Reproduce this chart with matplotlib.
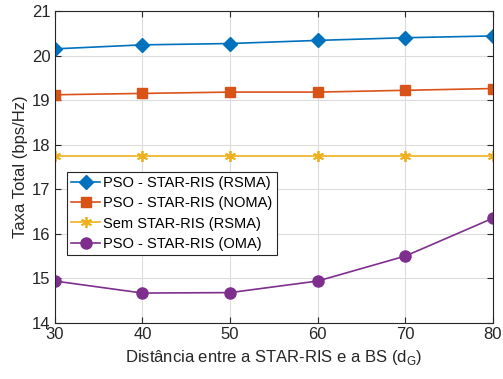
import matplotlib
matplotlib.use("Agg")
import matplotlib.pyplot as plt

plt.rcParams['font.family'] = ['Liberation Sans', 'DejaVu Sans']

x = [30, 40, 50, 60, 70, 80]
rsma = [20.15, 20.24, 20.27, 20.34, 20.40, 20.44]
noma = [19.12, 19.15, 19.18, 19.18, 19.22, 19.26]
sem = [17.74, 17.74, 17.74, 17.74, 17.74, 17.74]
oma = [14.94, 14.67, 14.68, 14.94, 15.50, 16.35]
labels = ['PSO - STAR-RIS (RSMA)', 'PSO - STAR-RIS (NOMA)', 'Sem STAR-RIS (RSMA)', 'PSO - STAR-RIS (OMA)']

fig = plt.figure(figsize=(5.03, 3.79), dpi=100)
ax = fig.add_axes([0.109, 0.148, 0.871, 0.823])

ax.plot(x, rsma, color='#0072BD', marker='D', markersize=7.5, lw=1.2, label=labels[0])
ax.plot(x, noma, color='#D95319', marker='s', markersize=7, lw=1.2, label=labels[1])
ax.plot(x, sem, color='#EDB120', marker=(6, 2, 0), markersize=8, mew=1.3, lw=1.2, label=labels[2])
ax.plot(x, oma, color='#7E2F8E', marker='o', markersize=8, lw=1.2, label=labels[3])

ax.set_xlim(30, 80)
ax.set_ylim(14, 21)
ax.set_xticks(x)
ax.set_yticks(range(14, 22))
ax.grid(True, color='#dcdcdc', lw=0.8)
ax.set_axisbelow(True)
ax.tick_params(direction='in', labelsize=12, colors='#262626', top=True, right=True, length=4, pad=3)
for s in ax.spines.values():
    s.set_color('#262626')
    s.set_linewidth(0.8)

ax.set_xlabel('Distância entre a STAR-RIS e a BS (d$_\\mathregular{G}$)', fontsize=12, color='#262626', labelpad=4)
ax.set_ylabel('Taxa Total (bps/Hz)', fontsize=12, color='#262626', labelpad=3)

leg = ax.legend(loc='upper left', bbox_to_anchor=(0.027, 0.484), borderaxespad=0, fontsize=10.5,
                frameon=True, fancybox=False, edgecolor='#262626', framealpha=1,
                handlelength=2.0, handletextpad=0.2, labelspacing=0.42, borderpad=0.3)
leg.get_frame().set_linewidth(0.8)

fig.savefig('out.png', dpi=100)
